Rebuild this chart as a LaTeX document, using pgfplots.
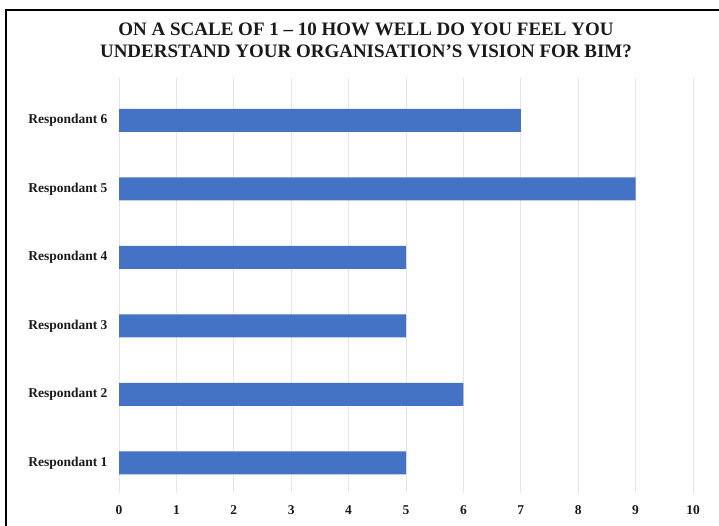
\documentclass[border=0pt]{standalone}
\usepackage{fontspec}
\setmainfont{Liberation Serif}
\usepackage{pgfplots}
\pgfplotsset{compat=1.18}
\definecolor{barblue}{HTML}{4472C4}
\definecolor{gridgray}{HTML}{E6E6E6}
\definecolor{txt}{HTML}{1A1A1A}
\begin{document}
\begin{tikzpicture}
\path[use as bounding box] (0,0) rectangle (719bp,526bp);
\draw[line width=2bp, black] (6bp,0) -- (6bp,516bp) -- (719bp,516bp);
\node[align=center, font=\fontsize{19bp}{22bp}\selectfont\bfseries, text=txt] at (366bp,486bp) {ON A SCALE OF 1 -- 10 HOW WELL DO YOU FEEL YOU\\UNDERSTAND YOUR ORGANISATION’S VISION FOR BIM?};
\begin{axis}[
 at={(119bp,33bp)}, anchor=south west,
 scale only axis, width=574bp, height=415bp,
 xbar, bar width=23bp,
 xmin=0, xmax=10, ymin=0.56, ymax=6.62,
 xtick={0,...,10}, ytick={1,...,6},
 yticklabels={Respondant 1,Respondant 2,Respondant 3,Respondant 4,Respondant 5,Respondant 6},
 axis line style={draw=none},
 major tick length=0pt,
 xmajorgrids, grid style={gridgray, line width=0.8bp},
 /pgf/number format/assume math mode=true,
 ticklabel style={font=\fontsize{13.5bp}{15bp}\selectfont\bfseries, text=txt},
 yticklabel style={xshift=-8bp},
 xticklabel style={yshift=-9bp},
]
\addplot[fill=barblue, draw=none] coordinates {(5,1) (6,2) (5,3) (5,4) (9,5) (7,6)};
\end{axis}
\end{tikzpicture}
\end{document}
